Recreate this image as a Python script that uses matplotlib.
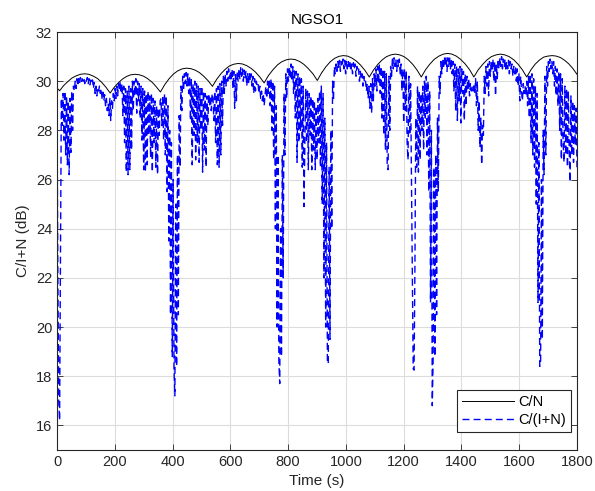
import numpy as np
import matplotlib
matplotlib.use("Agg")
import matplotlib.pyplot as plt

plt.rcParams['font.family'] = ['Liberation Sans', 'DejaVu Sans']

# C/N (black)
cn_t = [0, 9, 23, 38, 52, 67, 81, 96, 110, 125, 140, 155, 169, 184,
        198, 213, 227, 242, 256, 271, 285, 300, 314, 329, 343, 358,
        373, 388, 403, 418, 433, 448, 463, 478, 493, 508, 523, 538,
        553, 568, 583, 597, 612, 627, 642, 657, 672, 687, 702, 717,
        732, 748, 763, 778, 794, 809, 824, 840, 855, 870, 886, 901,
        916, 931, 946, 961, 976, 991, 1006, 1021, 1036, 1051, 1066, 1081,
        1096, 1111, 1126, 1141, 1156, 1171, 1186, 1201, 1216, 1231, 1246, 1261,
        1276, 1291, 1306, 1322, 1337, 1352, 1367, 1382, 1397, 1413, 1428, 1443,
        1458, 1474, 1489, 1504, 1520, 1535, 1550, 1565, 1581, 1596, 1611, 1626,
        1641, 1655, 1670, 1685, 1699, 1714, 1728, 1743, 1757, 1771, 1786, 1800]
cn_db = [29.72, 29.61, 29.82, 29.99, 30.13, 30.22, 30.28, 30.30, 30.28, 30.21, 30.11, 29.95, 29.76, 29.52,
         29.75, 29.94, 30.09, 30.20, 30.26, 30.28, 30.26, 30.20, 30.10, 29.96, 29.78, 29.56,
         29.86, 30.10, 30.29, 30.42, 30.50, 30.53, 30.51, 30.45, 30.35, 30.20, 30.02, 29.79,
         30.08, 30.31, 30.49, 30.62, 30.69, 30.72, 30.70, 30.63, 30.52, 30.37, 30.17, 29.93,
         30.23, 30.47, 30.66, 30.79, 30.87, 30.90, 30.88, 30.80, 30.68, 30.51, 30.30, 30.03,
         30.34, 30.59, 30.79, 30.93, 31.01, 31.04, 31.02, 30.94, 30.82, 30.65, 30.44, 30.17,
         30.46, 30.69, 30.87, 31.00, 31.07, 31.10, 31.07, 31.00, 30.87, 30.69, 30.46, 30.17,
         30.47, 30.70, 30.89, 31.02, 31.10, 31.13, 31.10, 31.02, 30.89, 30.70, 30.47, 30.17,
         30.46, 30.69, 30.87, 31.00, 31.07, 31.10, 31.07, 31.00, 30.87, 30.69, 30.46, 30.17,
         30.47, 30.69, 30.86, 30.98, 31.02, 31.04, 31.02, 30.96, 30.85, 30.71, 30.51, 30.28]

# C/(I+N) (blue dashed), one value every 3 s
cin_t = np.arange(0, 1801, 3)
cin_db = [
    28.8, 22.0, 17.0, 16.2, 22.5, 29.3, 28.2, 29.5, 27.6, 29.6, 27.0, 29.4, 26.6, 29.2, 26.2, 29.3, 27.1, 29.6, 28.0, 29.8,
    29.6, 30.0, 29.7, 30.1, 29.8, 30.1, 29.9, 30.15, 29.95, 30.1, 30.0, 30.15, 29.9, 30.1, 30.0, 30.15, 29.9, 30.1, 29.85, 30.05,
    29.9, 30.05, 29.7, 29.95, 29.5, 29.8, 29.4, 29.75, 29.6, 29.8, 29.5, 29.7, 29.3, 29.55, 29.2, 29.45, 29.0, 29.3, 28.8, 29.1,
    28.6, 29.3, 28.4, 29.2, 28.9, 29.5, 29.2, 29.7, 29.3, 29.8, 29.4, 29.9, 29.6, 30.0, 29.5, 29.9, 28.6, 29.8, 27.5, 29.7,
    26.3, 29.6, 26.2, 29.8, 26.4, 29.7, 27.2, 30.0, 28.8, 30.0, 29.4, 30.1, 28.7, 30.0, 29.2, 29.9, 28.5, 29.8, 27.6, 29.7,
    26.4, 29.6, 26.3, 29.5, 26.6, 29.6, 27.8, 29.4, 26.9, 29.5, 26.3, 29.3, 27.5, 29.2, 26.5, 29.0, 26.2, 28.9, 27.8, 29.2,
    29.3, 28.2, 29.4, 27.6, 29.5, 27.0, 29.4, 25.5, 29.0, 23.5, 28.0, 20.5, 27.5, 18.8, 26.0, 18.3, 17.2, 25.0, 18.4, 27.0,
    20.5, 28.6, 26.5, 29.8, 28.8, 30.2, 29.6, 30.3, 29.9, 30.35, 29.8, 30.3, 29.5, 30.2, 28.4, 30.1, 26.6, 29.9, 27.8, 30.0,
    26.8, 29.9, 27.5, 29.8, 26.7, 29.7, 28.0, 29.8, 26.3, 29.6, 27.2, 29.5, 26.5, 29.4, 28.2, 29.5, 29.0, 29.4, 28.8, 29.5,
    29.3, 28.4, 29.6, 27.5, 29.7, 26.6, 29.8, 26.5, 29.9, 27.0, 30.0, 28.2, 30.2, 29.5, 30.3, 29.8, 30.4, 30.0, 30.5, 30.1,
    30.4, 30.0, 30.5, 29.7, 30.4, 28.9, 30.3, 29.2, 30.4, 30.0, 30.5, 30.1, 30.55, 30.2, 30.5, 30.0, 30.45, 30.1, 30.4, 29.8,
    30.3, 29.9, 30.35, 30.0, 30.3, 29.8, 30.2, 29.5, 30.1, 29.6, 30.0, 29.8, 29.9, 29.5, 29.8, 29.3, 29.6, 29.2, 29.5, 29.0,
    29.4, 29.8, 29.3, 30.0, 29.5, 30.1, 29.0, 30.1, 28.0, 30.0, 26.8, 29.8, 24.0, 29.0, 20.0, 27.0, 18.6, 17.7, 24.0, 18.8,
    27.0, 22.0, 29.5, 27.0, 30.3, 29.3, 30.5, 30.0, 30.6, 30.1, 30.7, 30.0, 30.6, 29.5, 30.5, 28.5, 30.4, 26.7, 30.3, 27.5,
    30.2, 28.0, 30.1, 26.5, 29.8, 24.9, 27.5, 29.7, 27.5, 29.6, 26.4, 29.5, 27.8, 29.4, 26.4, 29.3, 27.2, 29.2, 26.4, 29.0,
    26.8, 29.3, 27.5, 29.6, 26.5, 29.8, 25.0, 29.5, 22.0, 28.5, 20.0, 27.5, 18.6, 18.5, 26.5, 19.5, 28.0, 24.0, 30.0, 29.2,
    30.6, 30.3, 30.7, 30.4, 30.8, 30.5, 30.85, 30.4, 30.8, 30.6, 30.9, 30.5, 30.85, 30.3, 30.8, 30.5, 30.85, 30.6, 30.8, 30.4,
    30.7, 30.3, 30.75, 30.5, 30.7, 30.2, 30.6, 30.4, 30.5, 30.0, 30.4, 30.1, 30.3, 29.8, 30.2, 29.9, 30.0, 29.6, 29.9, 29.3,
    29.8, 28.9, 29.9, 28.7, 30.1, 29.2, 30.3, 29.8, 30.5, 29.6, 30.6, 29.9, 30.7, 29.5, 30.6, 28.5, 30.5, 27.8, 30.4, 27.2,
    30.3, 26.6, 26.4, 30.2, 28.0, 30.6, 30.2, 30.9, 30.5, 30.95, 30.6, 30.9, 30.4, 30.85, 30.6, 30.9, 30.3, 30.7, 29.6, 30.5,
    28.3, 30.5, 28.8, 30.4, 27.5, 26.8, 30.2, 27.8, 29.9, 26.0, 22.0, 18.3, 18.25, 22.5, 28.5, 26.5, 29.8, 26.3, 29.6, 26.8,
    29.5, 28.0, 29.8, 27.2, 30.0, 28.5, 30.2, 27.0, 30.0, 25.5, 29.6, 21.0, 28.0, 16.8, 18.7, 26.5, 18.8, 27.0, 20.5, 28.5,
    25.5, 30.2, 29.5, 30.8, 30.3, 30.9, 30.5, 31.0, 30.6, 31.0, 30.4, 30.95, 30.6, 31.0, 30.5, 30.9, 30.3, 30.8, 29.6, 30.7,
    28.8, 30.6, 28.4, 30.5, 29.2, 30.6, 28.3, 30.5, 29.5, 30.4, 28.4, 30.3, 29.0, 30.2, 29.6, 30.1, 29.4, 29.9, 29.6, 29.8,
    29.6, 29.9, 29.5, 30.1, 29.0, 30.0, 28.0, 29.2, 27.3, 28.5, 26.6, 28.2, 27.8, 30.2, 29.5, 30.6, 29.8, 30.7, 29.4, 30.8,
    30.2, 30.8, 30.4, 30.9, 30.0, 30.8, 29.4, 30.7, 30.1, 30.9, 30.5, 30.95, 30.6, 31.0, 30.5, 30.9, 30.6, 30.9, 30.4, 30.8,
    30.5, 30.85, 30.3, 30.8, 30.5, 30.7, 30.2, 30.6, 30.3, 30.6, 30.0, 30.5, 29.8, 30.3, 29.2, 30.2, 29.6, 29.2, 29.9, 29.5,
    29.8, 29.4, 30.0, 29.0, 30.2, 28.5, 30.3, 27.5, 30.3, 27.0, 30.1, 26.5, 29.8, 25.0, 29.5, 21.0, 27.5, 18.4, 18.5, 26.0,
    19.5, 28.0, 26.2, 30.2, 27.0, 30.6, 29.8, 30.8, 30.4, 30.9, 30.5, 30.8, 30.3, 30.8, 29.8, 30.6, 29.4, 30.5, 29.0, 30.4,
    28.0, 30.3, 26.8, 30.1, 27.5, 26.7, 29.8, 27.0, 29.7, 26.5, 29.6, 27.2, 25.9, 29.4, 27.0, 29.2, 26.7, 29.0, 27.4, 28.9,
    26.5]

x_ticks = np.arange(0, 1801, 200)
y_ticks = np.arange(16, 33, 2)

fig = plt.figure(figsize=(5.95, 4.91), dpi=100, facecolor="w")
ax = fig.add_axes([57 / 595, 41 / 491, 520 / 595, 418 / 491])

ax.plot(cn_t, cn_db, color="k", lw=0.7, label="C/N")
ax.plot(cin_t, cin_db, color=(0, 0, 1), lw=1.0, ls=(0, (5, 3)), label="C/(I+N)")

ax.set_xlim(0, 1800)
ax.set_ylim(15, 32)
ax.set_xticks(x_ticks)
ax.set_yticks(y_ticks)
ax.grid(True, color="#dcdcdc", lw=0.8)
ax.set_axisbelow(True)
ax.tick_params(direction="in", length=4, top=True, right=True, labelsize=10.5,
               colors="#262626", width=0.6)
for s in ax.spines.values():
    s.set_color("#262626")
    s.set_linewidth(0.8)

ax.set_title("NGSO1", fontsize=11, color="k", pad=6)
ax.set_xlabel("Time (s)", fontsize=11, color="#262626")
ax.set_ylabel("C/I+N (dB)", fontsize=11, color="#262626")

leg = ax.legend(loc="lower right", bbox_to_anchor=(0.988, 0.043), borderaxespad=0,
                fontsize=10.5, fancybox=False, framealpha=1, edgecolor="#262626",
                handlelength=3.5, handletextpad=0.3, borderpad=0.35, labelspacing=0.25)
leg.get_frame().set_linewidth(0.8)

fig.savefig("out.png", dpi=100)
